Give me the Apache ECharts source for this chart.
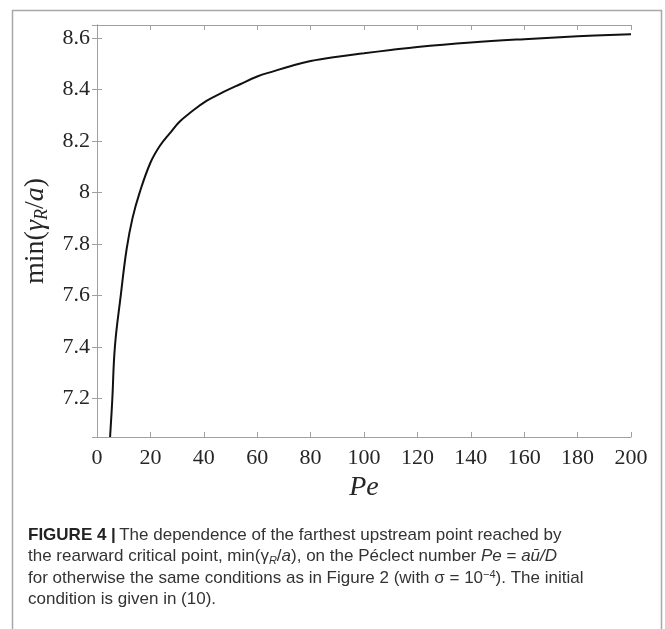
<!DOCTYPE html>
<html>
<head>
<meta charset="utf-8">
<script src="https://cdn.jsdelivr.net/npm/echarts@6/dist/echarts.min.js"></script>
<style>
  html, body { margin: 0; padding: 0; background: #fff; }
  #chart { width: 665px; height: 629px; }
</style>
</head>
<body>
<div id="chart"></div>
<script>
// data
var peValues = [4.9, 5.7, 6.7, 8.9, 11.1, 13.3, 16, 20, 23.5, 27.3, 31, 35, 41, 47.4, 53.6, 60, 66, 72.4, 80, 90, 100, 110, 120, 140, 160, 180, 200];
var minGamma = [7.05, 7.19, 7.40, 7.60, 7.78, 7.90, 8.00, 8.115, 8.18, 8.23, 8.275, 8.31, 8.355, 8.39, 8.42, 8.45, 8.47, 8.49, 8.51, 8.527, 8.54, 8.553, 8.565, 8.582, 8.595, 8.606, 8.614];

var gray = "#a0a0a0";
var serif = "'Liberation Serif', 'DejaVu Serif', serif";
var sans = "'Liberation Sans', Arial, sans-serif";

var curve = [];
for (var i = 0; i < peValues.length; i++) {
  curve.push([peValues[i], minGamma[i]]);
}

var myChart = echarts.init(document.getElementById("chart"), null, { renderer: "canvas" });

var axisBase = {
  axisLine: { show: true, lineStyle: { color: gray, width: 1 } },
  axisTick: { show: true, inside: true, length: 5, lineStyle: { color: gray } },
  splitLine: { show: false }
};

var option = {
  animation: false,
  backgroundColor: "#fff",
  grid: { left: 97, right: 34, top: 25, bottom: 192 },
  xAxis: [
    Object.assign({}, axisBase, {
      type: "value", position: "bottom", min: 0, max: 200, interval: 20,
      axisLabel: { color: "#262626", fontFamily: serif, fontSize: 22, margin: 10 },
      name: "Pe", nameLocation: "middle", nameGap: 34,
      nameTextStyle: { color: "#262626", fontFamily: serif, fontSize: 28, fontStyle: "italic" }
    }),
    Object.assign({}, axisBase, {
      type: "value", position: "top", min: 0, max: 200, interval: 20,
      axisLabel: { show: false }
    })
  ],
  yAxis: [
    Object.assign({}, axisBase, {
      type: "value", position: "left", min: 7.05, max: 8.65, splitNumber: 8,
      minInterval: 0.2, maxInterval: 0.2,
      axisLabel: {
        color: "#262626", fontFamily: serif, fontSize: 22, margin: 7,
        showMinLabel: false, showMaxLabel: false
      },
      name: "{rm|min(}{it|γ}{sub|R}{rm|/}{it|a}{rm|)}",
      nameLocation: "middle", nameGap: 46, nameRotate: 90,
      nameTextStyle: {
        rich: {
          rm: { fontFamily: serif, fontSize: 28, color: "#262626" },
          it: { fontFamily: serif, fontSize: 28, fontStyle: "italic", color: "#262626" },
          sub: { fontFamily: serif, fontSize: 18, fontStyle: "italic", color: "#262626", padding: [12, 0, 0, 0] }
        }
      }
    }),
    Object.assign({}, axisBase, {
      type: "value", position: "right", min: 7.05, max: 8.65, splitNumber: 8,
      minInterval: 0.2, maxInterval: 0.2,
      axisLabel: { show: false }
    })
  ],
  series: [{
    type: "line",
    data: curve,
    smooth: 0.4,
    showSymbol: false,
    lineStyle: { color: "#111", width: 2 }
  }],
  graphic: [
    {
      type: "rect", silent: true,
      shape: { x: 12.5, y: 10.5, width: 649, height: 700 },
      style: { fill: null, stroke: "#a8a8a8", lineWidth: 1.5 }
    },
    {
      type: "text", left: 28, top: 527,
      style: {
        text: "{b|FIGURE 4 |} {t|The dependence of the farthest upstream point reached by}",
        rich: {
          b: { fontFamily: sans, fontSize: 17, fontWeight: "bold", fill: "#222" },
          t: { fontFamily: sans, fontSize: 17, fill: "#333" }
        }
      }
    },
    {
      type: "text", left: 28, top: 548,
      style: {
        text: "{t|the rearward critical point, min(γ}{s|R}{t|/}{i|a}{t|), on the Péclect number }{i|Pe}{t| = }{i|aū/D}",
        rich: {
          t: { fontFamily: sans, fontSize: 17, fill: "#333" },
          i: { fontFamily: sans, fontSize: 17, fontStyle: "italic", fill: "#333" },
          s: { fontFamily: sans, fontSize: 11, fontStyle: "italic", fill: "#333", padding: [8, 0, 0, 0] }
        }
      }
    },
    {
      type: "text", left: 28, top: 569,
      style: {
        text: "{t|for otherwise the same conditions as in Figure 2 (with σ = 10}{p|−4}{t|). The initial}",
        rich: {
          t: { fontFamily: sans, fontSize: 17, fill: "#333" },
          p: { fontFamily: sans, fontSize: 11, fill: "#333", padding: [0, 0, 8, 0] }
        }
      }
    },
    {
      type: "text", left: 28, top: 591,
      style: {
        text: "condition is given in (10).",
        fontFamily: sans, fontSize: 17, fill: "#333"
      }
    }
  ]
};

myChart.setOption(option);
</script>
</body>
</html>
